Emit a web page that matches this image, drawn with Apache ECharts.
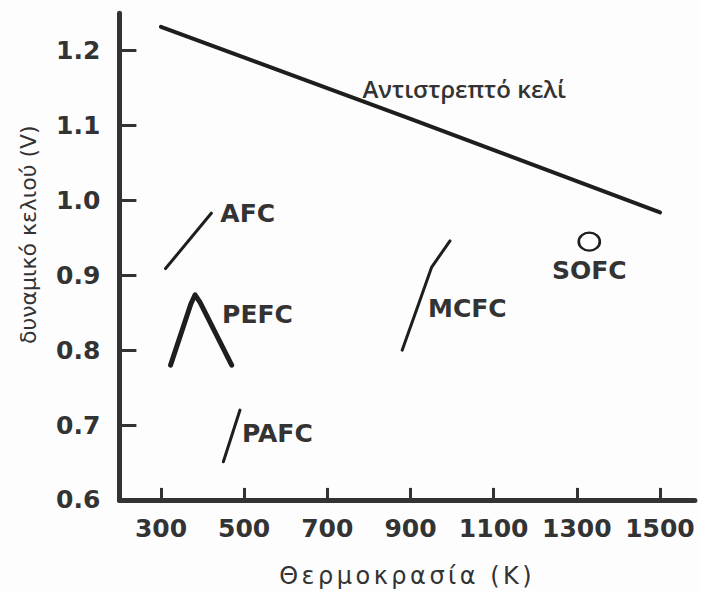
<!DOCTYPE html>
<html><head><meta charset="utf-8">
<script src="https://cdn.jsdelivr.net/npm/echarts@6/dist/echarts.min.js"></script>
<style>html,body{margin:0;padding:0;background:#fdfdfd}#c{width:701px;height:591px}</style>
</head><body><div id="c"></div>
<script>
// ---- data ----
const xTicks = [300, 500, 700, 900, 1100, 1300, 1500];
const yTicks = [0.6, 0.7, 0.8, 0.9, 1.0, 1.1, 1.2];

const reversibleName = 'Αντιστρεπτό κελί';
const reversibleT = [300, 900, 1500];
const reversibleV = [1.232, 1.109, 0.984];

const afcName = 'AFC';
const afcT = [311, 421];
const afcV = [0.909, 0.983];

const pefcName = 'PEFC';
const pefcT = [323, 372, 382, 394, 470];
const pefcV = [0.780, 0.862, 0.874, 0.864, 0.780];

const pafcName = 'PAFC';
const pafcT = [450, 490];
const pafcV = [0.651, 0.720];

const mcfcName = 'MCFC';
const mcfcT = [880, 923, 951, 995];
const mcfcV = [0.800, 0.867, 0.911, 0.946];

const sofcName = 'SOFC';
const sofcT = [1330];
const sofcV = [0.945];

const xTitle = 'Θερμοκρασία (K)';
const yTitle = 'δυναμικό κελιού (V)';

// ---- build ----
const ink = '#1e1e1e';
const textCol = '#333';
const labelFont = {fontFamily: 'DejaVu Sans', fontWeight: 'bold', fontSize: 25, color: textCol};

function pts(t, v, labelIdx, labelOpt) {
  return t.map((x, i) => {
    const item = {value: [x, v[i]]};
    if (i === labelIdx) item.label = Object.assign({show: true}, labelOpt);
    return item;
  });
}
function lineSeries(name, t, v, width, labelIdx, labelOpt) {
  return {
    type: 'line', name: name, data: pts(t, v, labelIdx, labelOpt),
    showSymbol: true, showAllSymbol: true, symbol: 'circle', symbolSize: 2,
    itemStyle: {color: 'rgba(0,0,0,0)', opacity: 1},
    lineStyle: {color: ink, width: width, cap: 'round', join: 'round'},
    label: {show: false}, labelLayout: {hideOverlap: false}, silent: true
  };
}
// label placed relative to its point: text left edge (or centre) at dx, vertical centre at dy
function lab(name, dx, dy, align, extra) {
  return Object.assign({
    formatter: name, position: [dx + 1, dy + 1], align: align || 'left', verticalAlign: 'middle'
  }, labelFont, extra || {});
}

const series = [
  lineSeries(reversibleName, reversibleT, reversibleV, 4, 1,
    lab(reversibleName, -48, -30, 'left', {fontFamily: 'Open Sans', fontWeight: 600, fontSize: 24})),
  lineSeries(afcName, afcT, afcV, 3, 1, lab(afcName, 9, 0)),
  lineSeries(pefcName, pefcT, pefcV, 5, 2, lab(pefcName, 27, 20)),
  lineSeries(pafcName, pafcT, pafcV, 3, 1, lab(pafcName, 2, 23)),
  lineSeries(mcfcName, mcfcT, mcfcV, 3, 1, lab(mcfcName, 8, 8)),
  {
    type: 'scatter', name: sofcName,
    data: pts(sofcT, sofcV, 0, {
      formatter: sofcName, position: 'inside', align: 'center', verticalAlign: 'middle',
      offset: [0, 29], fontFamily: 'DejaVu Sans', fontWeight: 'bold', fontSize: 25, color: textCol
    }),
    symbol: 'path://M0,10 A10,10 0 1,1 20,10 A10,10 0 1,1 0,10 Z',
    symbolKeepAspect: false, symbolSize: [21, 18],
    itemStyle: {color: 'rgba(0,0,0,0)', borderColor: ink, borderWidth: 2.5, opacity: 1},
    silent: true
  }
];

const chart = echarts.init(document.getElementById('c'), null, {renderer: 'svg'});
chart.setOption({
  animation: false,
  backgroundColor: '#fdfdfd',
  grid: {left: 119.4, right: 6.1, top: 13.3, bottom: 91.1, containLabel: false, outerBoundsMode: 'none'},
  xAxis: {
    type: 'value', min: 200, max: 1584,
    name: xTitle, nameLocation: 'middle', nameGap: 64,
    nameTextStyle: {fontFamily: 'DejaVu Sans', fontSize: 24, color: textCol},
    axisLine: {lineStyle: {color: '#333', width: 5}},
    axisTick: {inside: true, length: 12, customValues: xTicks, lineStyle: {color: '#333', width: 3}},
    axisLabel: Object.assign({customValues: xTicks, margin: 16, formatter: v => String(v)}, labelFont),
    splitLine: {show: false}
  },
  yAxis: {
    type: 'value', min: 0.6, max: 1.25,
    name: yTitle, nameLocation: 'middle', nameGap: 80, nameRotate: 90,
    nameTextStyle: {fontFamily: 'DejaVu Sans', fontSize: 22, color: textCol, padding: [0, 0, 0, 44]},
    axisLine: {lineStyle: {color: '#333', width: 5}},
    axisTick: {inside: true, length: 17, customValues: yTicks, lineStyle: {color: '#333', width: 3}},
    axisLabel: Object.assign({customValues: yTicks, margin: 19, formatter: v => v.toFixed(1)}, labelFont),
    splitLine: {show: false}
  },
  series: series
});

// letter-spaced x-axis title, as in the reference
function spaceTitle() {
  document.querySelectorAll('#c text').forEach(el => {
    if (el.textContent === xTitle) el.setAttribute('letter-spacing', '3.5');
  });
}
spaceTitle();
chart.on('finished', spaceTitle);
</script>
</body></html>
